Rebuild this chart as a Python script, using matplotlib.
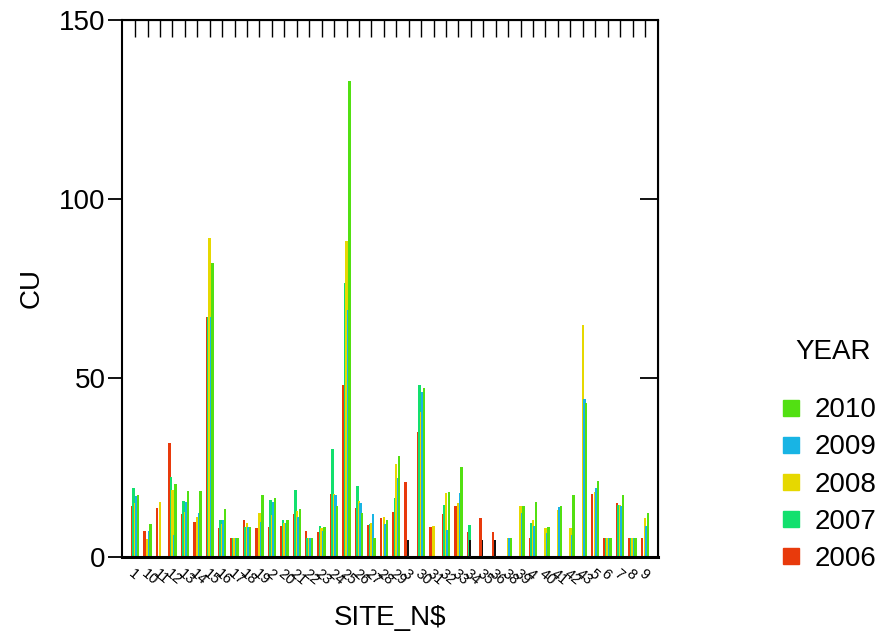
import numpy as np
import matplotlib
matplotlib.use("Agg")
import matplotlib.pyplot as plt
from matplotlib.lines import Line2D

plt.rcParams["font.family"] = ["Liberation Sans", "DejaVu Sans"]

# Site labels in the (string-sorted) order they appear on the axis.
SITES = ["1", "10", "11", "12", "13", "14", "15", "16", "17", "18", "19",
         "2", "20", "21", "22", "23", "24", "25", "26", "27", "28", "29",
         "3", "30", "31", "32", "33", "34", "35", "36", "38", "39",
         "4", "40", "41", "42", "43", "5", "6", "7", "8", "9"]

CU_2006 = [14.2, 7.3, 13.6, 31.8, 11.9, 9.7, 67.0, 8.0, 5.3, 10.3, 8.0,
           8.3, 8.7, 11.9, 7.3, 7.0, 17.6, 48.0, 13.6, 8.8, 10.9, 12.7,
           20.9, 35.0, 8.3, 11.9, 14.2, 7.0, 11.0, 7.0, 0, 0,
           5.3, 0, 0, 0, 0, 17.6, 5.3, 15.0, 5.3, 5.3]
CU_2007 = [19.3, 0, 0, 22.3, 15.6, 0, 67.0, 10.3, 5.3, 8.3, 0,
           15.9, 10.3, 18.6, 5.3, 8.7, 30.3, 76.6, 19.8, 9.2, 0, 16.4,
           0, 48.1, 0, 14.6, 0, 8.9, 0, 0, 0, 0,
           9.6, 0, 0, 0, 0, 0, 5.3, 14.6, 5.3, 0]
CU_2008 = [15.0, 5.0, 15.4, 18.7, 12.6, 11.3, 89.0, 9.2, 5.3, 9.6, 12.3,
           11.6, 9.6, 12.8, 5.3, 8.0, 17.6, 88.3, 15.7, 9.6, 11.3, 25.9,
           0, 40.6, 8.7, 18.0, 15.0, 0, 0, 0, 5.3, 14.2,
           10.3, 8.0, 13.1, 8.2, 64.8, 18.2, 5.3, 14.4, 5.3, 10.9]
CU_2009 = [17.0, 7.3, 0, 6.1, 15.5, 12.3, 67.0, 10.3, 5.3, 8.3, 9.8,
           15.5, 9.6, 11.3, 5.3, 7.3, 17.2, 69.0, 15.0, 11.9, 9.3, 22.2,
           0, 46.2, 0, 7.5, 18.0, 0, 0, 0, 5.3, 12.4,
           8.7, 6.6, 13.9, 6.1, 44.1, 19.2, 5.3, 14.2, 5.3, 8.7]
CU_2010 = [17.2, 9.3, 0, 20.3, 18.3, 18.3, 82.0, 13.3, 5.3, 8.3, 17.3,
           16.4, 10.3, 13.3, 5.3, 8.3, 14.2, 133.0, 12.2, 5.3, 10.3, 28.2,
           0, 47.2, 0, 18.2, 25.2, 0, 0, 0, 5.3, 14.2,
           15.4, 8.3, 14.2, 17.2, 43.1, 21.2, 5.3, 17.2, 5.3, 12.2]
# Records without a year code.
CU_NOYEAR = [0] * 22 + [4.7] + [0] * 4 + [4.7, 4.7, 4.7] + [0] * 12

YEARS = ["2006", "2007", "2008", "2009", "2010"]
COLORS = ["#E83A0C", "#12E06E", "#E6D800", "#18B4E4", "#52E012"]

fig = plt.figure(figsize=(8.91, 6.37), dpi=100)
ax = fig.add_axes([0.137, 0.1256, 0.6015, 0.843])

x = np.arange(len(SITES))
offsets = [-0.24, -0.12, 0.0, 0.12, 0.24]
width = 0.2
for vals, col, off in zip([CU_2006, CU_2007, CU_2008, CU_2009, CU_2010],
                          COLORS, offsets):
    ax.bar(x + off, vals, width=width, color=col, linewidth=0, zorder=2)
ax.bar(x - 0.06, CU_NOYEAR, width=0.14, color="#111111", linewidth=0, zorder=3)

ax.set_xlim(-1.05, len(SITES) + 0.05)
ax.set_ylim(0, 150)
ax.set_yticks([0, 50, 100, 150])
ax.tick_params(axis="y", direction="out", length=10, width=1.3,
               labelsize=20, pad=2)

# Mirror y ticks inward on the right spine.
ay = ax.secondary_yaxis("right")
ay.set_yticks([0, 50, 100, 150])
ay.tick_params(direction="in", length=13, width=1.3, labelright=False)

# Category ticks along the top, labels along the bottom.
ax.set_xticks(x)
ax.set_xticklabels(SITES, rotation=-40, ha="left", va="top",
                   rotation_mode="anchor", fontsize=10.5)
ax.tick_params(axis="x", length=0, pad=7)
ax_top = ax.secondary_xaxis("top")
ax_top.set_xticks(x)
ax_top.tick_params(direction="in", length=12, width=1.0, labeltop=False)

for s in ax.spines.values():
    s.set_linewidth(1.5)
ax.spines["bottom"].set_linewidth(2.2)

ax.set_xlabel("SITE_N$", fontsize=20, labelpad=12)
ax.set_ylabel("CU", fontsize=20, labelpad=10)

# Legend, newest year on top, with its heading placed separately.
handles = [Line2D([], [], marker="s", linestyle="none", markersize=11,
                  markerfacecolor=c, markeredgecolor=c)
           for c in COLORS[::-1]]
fig.legend(handles, YEARS[::-1], loc="upper left",
           bbox_to_anchor=(0.857, 0.398), frameon=False, fontsize=20,
           labelspacing=0.4, handlelength=1.0, handletextpad=0.35,
           borderpad=0)
fig.text(0.935, 0.447, "YEAR", fontsize=20, ha="center", va="center")

fig.savefig("out.png", dpi=100, facecolor="white")
